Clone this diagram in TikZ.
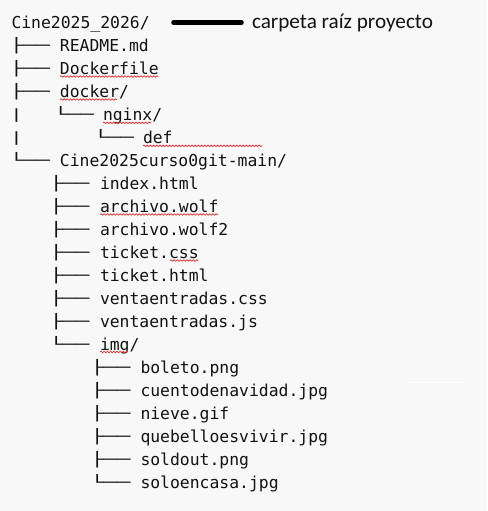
\documentclass[tikz,border=0pt]{standalone}
\usepackage{fontspec}
\usepackage{graphicx}
\usetikzlibrary{decorations.pathmorphing}
\newfontfamily\treemono{DejaVu Sans Mono}
\newfontfamily\notefont{Carlito}
\definecolor{bgc}{RGB}{248,248,248}
\definecolor{txt}{RGB}{18,18,18}
\definecolor{spell}{RGB}{214,48,48}
\newcommand{\brT}{\raisebox{0.75pt}{\scalebox{1.35}[0.85]{├──}}}
\newcommand{\brL}{\raisebox{0.75pt}{\scalebox{1.35}[0.85]{└──}}}
\newcommand{\brV}{\raisebox{0.75pt}{\scalebox{1.35}[0.7]{│}}}
\begin{document}
\begin{tikzpicture}[x=0.75pt,y=-0.75pt,
  entry/.style={anchor=base west,inner sep=0pt,outer sep=0pt,
    font=\treemono\fontsize{12.3pt}{14pt}\selectfont,text=txt},
  branch/.style={entry},
  note/.style={anchor=base west,inner sep=0pt,outer sep=0pt,
    font=\notefont\fontsize{15.9pt}{18pt}\selectfont,text=txt},
  pointer/.style={line width=3.4pt,line cap=round,draw=black},
  squiggle/.style={draw=spell,line width=0.55pt,decorate,
    decoration={snake,amplitude=0.55pt,segment length=2.4pt}}
]
\useasboundingbox[fill=bgc] (0,0) rectangle (487,511);

% root
\node[entry] (root) at (11.5,28) {Cine2025\_2026/};
\coordinate (ptrA) at (173.5,22.5);
\coordinate (ptrB) at (241.5,22.5);
\draw[pointer] (ptrA) -- (ptrB);
\node[note] (rootnote) at (252,28) {carpeta raíz proyecto};

% level 1
\node[branch] (b1) at (10,51) {\brT};
\node[entry] (readme) at (60,51) {README.md};
\node[branch] (b2) at (10,74) {\brT};
\node[entry] (dockerfile) at (60,74) {Dockerfile};
\node[branch] (b3) at (10,97) {\brT};
\node[entry] (docker) at (60,97) {docker/};
\node[branch] (v4) at (10,120) {\brV};
\node[branch] (b4) at (54,120) {\brL};
\node[entry] (nginx) at (103,120) {nginx/};
\node[branch] (v5) at (10,143) {\brV};
\node[branch] (b5) at (94,143) {\brL};
\node[entry] (def) at (143,143) {def};
\node[branch] (b6) at (10,166) {\brL};
\node[entry] (main) at (60,166) {Cine2025curso0git-main/};

% level 2
\node[branch] (c1) at (49.5,189) {\brT};
\node[entry] (index) at (100,189) {index.html};
\node[branch] (c2) at (49.5,212) {\brT};
\node[entry] (wolf) at (100,212) {archivo.wolf};
\node[branch] (c3) at (49.5,235) {\brT};
\node[entry] (wolftwo) at (100,235) {archivo.wolf2};
\node[branch] (c4) at (49.5,258) {\brT};
\node[entry] (tcss) at (100,258) {ticket.css};
\node[branch] (c5) at (49.5,281) {\brT};
\node[entry] (thtml) at (100,281) {ticket.html};
\node[branch] (c6) at (49.5,304) {\brT};
\node[entry] (vcss) at (100,304) {ventaentradas.css};
\node[branch] (c7) at (49.5,327) {\brT};
\node[entry] (vjs) at (100,327) {ventaentradas.js};
\node[branch] (c8) at (49.5,350) {\brL};
\node[entry] (img) at (100,350) {img/};

% level 3
\node[branch] (d1) at (90.5,373) {\brT};
\node[entry] (boleto) at (140.5,373) {boleto.png};
\node[branch] (d2) at (90.5,396) {\brT};
\node[entry] (cuento) at (140.5,396) {cuentodenavidad.jpg};
\node[branch] (d3) at (90.5,419) {\brT};
\node[entry] (nieve) at (140.5,419) {nieve.gif};
\node[branch] (d4) at (90.5,442) {\brT};
\node[entry] (quebello) at (140.5,442) {quebelloesvivir.jpg};
\node[branch] (d5) at (90.5,465) {\brT};
\node[entry] (soldout) at (140.5,465) {soldout.png};
\node[branch] (d6) at (90.5,488) {\brL};
\node[entry] (solo) at (140.5,488) {soloencasa.jpg};

% spell-check underlines
\draw[squiggle] (60,76.5) -- (158,76.5);
\draw[squiggle] (60,99.5) -- (117,99.5);
\draw[squiggle] (103,122.8) -- (151,122.8);
\draw[squiggle] (143,145.8) -- (262,145.8);
\draw[squiggle] (100,214.5) -- (218,214.5);
\draw[squiggle] (170,260.5) -- (198,260.5);
\draw[squiggle] (100,352) -- (128,352);

% faint white stroke
\draw[white,line width=1.1pt] (407,382.7) -- (466,382.7);
\end{tikzpicture}
\end{document}
